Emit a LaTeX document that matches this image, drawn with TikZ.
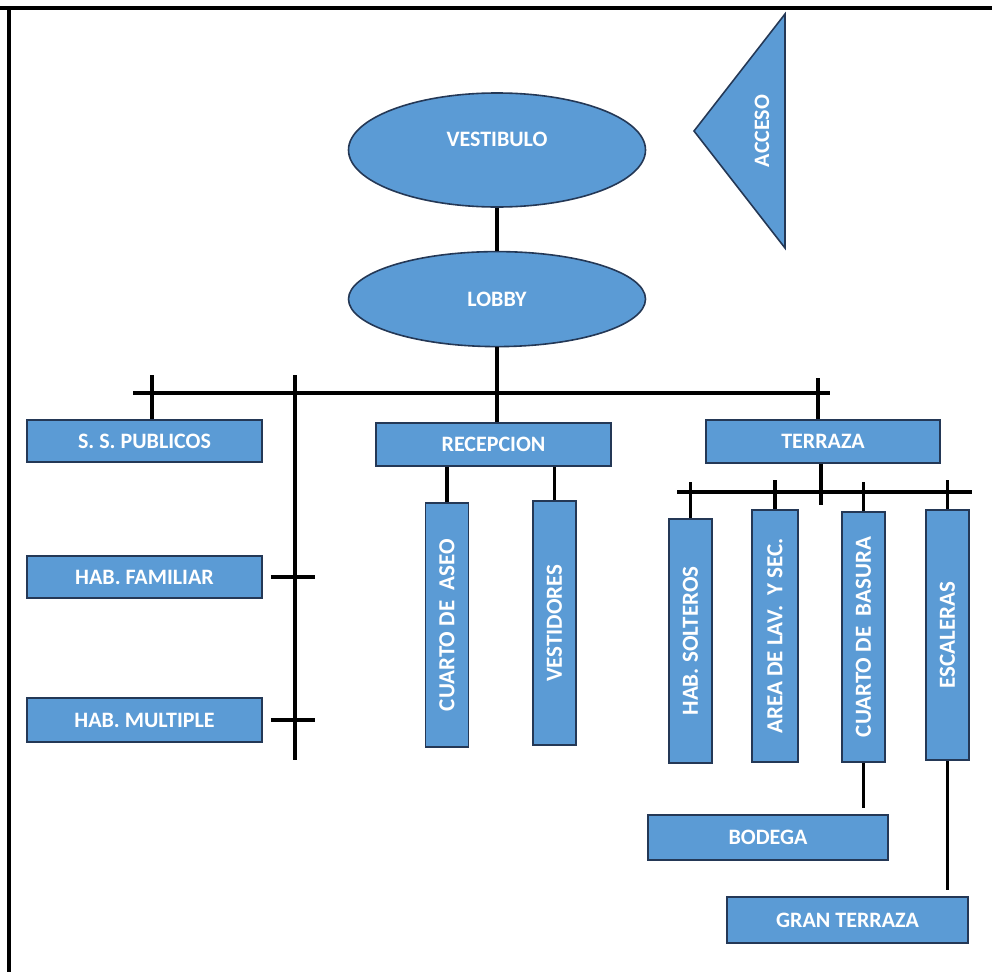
\documentclass[tikz,border=0pt]{standalone}
\usepackage{fontspec}
\setmainfont{Carlito}
\usetikzlibrary{positioning,shapes.geometric}
\definecolor{planblue}{RGB}{91,155,213}
\definecolor{planedge}{RGB}{36,56,86}

\begin{document}
\begin{tikzpicture}[x=1pt, y=-1pt,
        node distance=43pt,
        box/.style={draw=planedge, line width=1.6pt, fill=planblue, text=white, inner sep=0pt, font=\bfseries\fontsize{22}{24}\selectfont},
        hbox/.style={box, minimum width=235pt, minimum height=43pt},
        vbox/.style={box, rotate=90, minimum height=43pt, font=\bfseries\fontsize{23}{24}\selectfont},
        oval/.style={box, ellipse, minimum width=297pt},
        link/.style={line width=3.4pt, draw=black}
    ]
        \useasboundingbox (0,0) rectangle (992,972);
        \draw[line width=3.5pt] (0,8) -- (992,8);
        \draw[line width=3.5pt] (9,8) -- (9,972);

        \node[oval, minimum height=114pt, text height=15pt, text depth=22pt] (vest) at (497,150) {VESTIBULO};
        \node[oval, minimum height=95pt, below=43pt of vest] (lobby) {LOBBY};
        \draw[box] (785,14) -- (785,248) -- (694,131) -- cycle;
        \node[text=white, rotate=90, font=\bfseries\fontsize{22}{24}\selectfont] (acceso) at (762,131) {ACCESO};

        \node[hbox, minimum height=42pt] (sspub) at (144.5,441) {S. S. PUBLICOS};
        \node[hbox, minimum height=42pt] (habfam) at (144.5,577) {HAB. FAMILIAR};
        \node[hbox, minimum height=44pt] (habmul) at (144.5,720) {HAB. MULTIPLE};
        \node[hbox] (recep) at (493.5,444.5) {RECEPCION};
        \node[hbox, minimum width=234pt] (terraza) at (823,441.5) {TERRAZA};

        \node[vbox, minimum width=244pt] (aseo) at (447,625) {CUARTO DE \ ASEO};
        \node[vbox, minimum width=244pt] (vestid) at (554.5,623) {VESTIDORES};
        \node[vbox, minimum width=244pt] (solt) at (690.5,641) {HAB. SOLTEROS};
        \node[vbox, minimum width=252pt, minimum height=46pt] (lav) at (775,636) {AREA DE LAV. \ Y SEC.};
        \node[vbox, minimum width=250pt] (basura) at (863.5,637) {CUARTO DE \ BASURA};
        \node[vbox, minimum width=250pt] (escal) at (947.5,635) {ESCALERAS};

        \node[hbox, minimum width=240pt, minimum height=45pt] (bodega) at (768,837.5) {BODEGA};
        \node[hbox, minimum width=241pt, minimum height=46pt] (gran) at (847.5,920) {GRAN TERRAZA};

        % main bar under the lobby
        \coordinate (barL) at (133,393);
        \coordinate (barR) at (830,393);
        \coordinate (spine) at (295,375);
        \coordinate (spineEnd) at (295,760);
        \draw[link] (vest) -- (lobby);
        \draw[link] (lobby.south) -- (lobby.south |- recep.north);
        \draw[link] (barL) -- (barR);
        \draw[link] (152,375) -- (sspub.north -| 152,0);
        \draw[link] (spine) -- (spineEnd);
        \draw[link] ([xshift=8pt]habfam.east) -- (315,577);
        \draw[link] ([xshift=8pt]habmul.east) -- (315,720);
        \draw[link] (818,378) -- (terraza.north -| 818,0);

        % reception branch
        \draw[link] (recep.south -| aseo.east) -- (aseo.east);
        \draw[link] (recep.south -| vestid.east) -- (vestid.east);

        % terrace branch
        \coordinate (subL) at (677,492);
        \coordinate (subR) at (972,492);
        \draw[link] (terraza.south -| 821,0) -- (821,505);
        \draw[link] (subL) -- (subR);
        \draw[link] (solt.east |- 0,482) -- (solt.east);
        \draw[link] (lav.east |- 0,480) -- (lav.east);
        \draw[link] (basura.east |- 0,482) -- (basura.east);
        \draw[link] (escal.east |- 0,480) -- (escal.east);
        \draw[link] (basura.west) -- (basura.west |- 0,808);
        \draw[link] (escal.west) -- (escal.west |- 0,890);
    \end{tikzpicture}
\end{document}
